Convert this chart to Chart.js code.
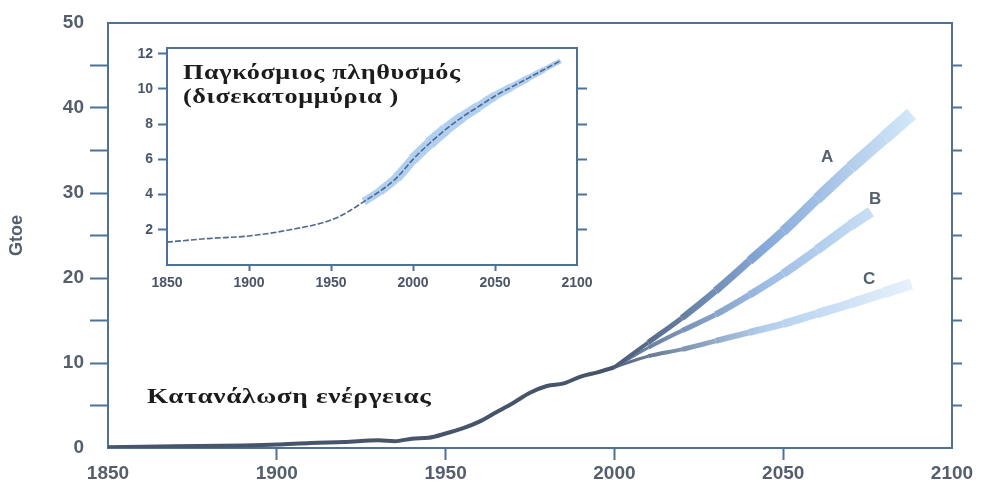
<!DOCTYPE html>
<html lang="el">
<head>
<meta charset="UTF-8">
<title>Κατανάλωση ενέργειας και παγκόσμιος πληθυσμός</title>
<script src="https://cdn.jsdelivr.net/npm/chart.js"></script>
<style>
    body { margin: 0; background: #fff; }
    .wrap { position: relative; width: 981px; height: 493px; }
    #mainChart { position: absolute; left: 0; top: 0; }
    #popChart { position: absolute; left: 120px; top: 35px; }
    .note { position: absolute; font-family: 'Liberation Serif', serif; font-weight: bold; color: #1c1c1c;
            white-space: nowrap; font-size: 21px; letter-spacing: 0.5px; transform: scaleX(1.25); transform-origin: left top; }
    .tag { position: absolute; font-family: 'Liberation Sans', Arial, sans-serif; font-weight: bold; font-size: 17px; color: #56616f; }
</style>
</head>
<body>
<div class="wrap">
    <canvas id="mainChart" width="981" height="493"></canvas>
    <canvas id="popChart" width="480" height="265"></canvas>
    <div class="note" style="left:183px; top:60px; line-height:24px;">Παγκόσμιος πληθυσμός<br>(δισεκατομμύρια )</div>
    <div class="note" style="left:147px; top:384px; transform: scaleX(1.3);">Κατανάλωση ενέργειας</div>
    <div class="tag" style="left:821px; top:147px;">A</div>
    <div class="tag" style="left:869px; top:189px;">B</div>
    <div class="tag" style="left:863px; top:269px;">C</div>
</div>
<script>
// ιστορική κατανάλωση ενέργειας (Gtoe)
const histYears = [1850, 1870, 1890, 1900, 1910, 1920, 1930, 1935, 1940, 1945, 1950, 1955, 1960, 1965, 1970, 1975, 1980, 1985, 1990, 1995, 2000];
const histValues = [0.1, 0.2, 0.3, 0.4, 0.6, 0.7, 0.9, 0.8, 1.1, 1.2, 1.7, 2.3, 3.1, 4.2, 5.3, 6.5, 7.3, 7.6, 8.4, 8.9, 9.5];

// σενάρια A, B, C
const yearsA = [2000, 2010, 2020, 2030, 2040, 2050, 2060, 2070, 2080, 2088];
const valuesA = [9.5, 12.4, 15.3, 18.5, 22.0, 25.5, 29.3, 33.0, 36.5, 39.3];
const yearsB = [2000, 2010, 2020, 2030, 2040, 2050, 2060, 2070, 2076];
const valuesB = [9.5, 11.8, 13.8, 15.7, 18.0, 20.5, 23.3, 26.2, 27.8];
const yearsC = [2000, 2010, 2020, 2030, 2040, 2050, 2060, 2070, 2080, 2088];
const valuesC = [9.5, 10.8, 11.6, 12.6, 13.6, 14.6, 15.8, 17.0, 18.3, 19.3];

// παγκόσμιος πληθυσμός (δισεκατομμύρια)
const popYears = [1850, 1875, 1900, 1925, 1950, 1960, 1970, 1980, 1990, 2000, 2010, 2020, 2030, 2040, 2050, 2060, 2070, 2080, 2090];
const popValues = [1.3, 1.5, 1.65, 2.0, 2.55, 3.0, 3.6, 4.2, 4.95, 6.0, 6.9, 7.7, 8.4, 9.0, 9.6, 10.1, 10.6, 11.1, 11.6];

const xTicks = [1850, 1900, 1950, 2000, 2050, 2100];
const gtoeTicks = [0, 5, 10, 15, 20, 25, 30, 35, 40, 45, 50];
const popTicks = [2, 4, 6, 8, 10, 12];

const frameColor = '#4d7197';
const labelColor = '#545e6c';
const clear = 'rgba(0,0,0,0)';

function points(xs, ys) {
    return xs.map((x, i) => ({ x: x, y: ys[i] }));
}

// χρώμα ζώνης σεναρίου: από σκούρο προς ανοιχτό μπλε
function bandColor(stops) {
    return function (ctx) {
        const chart = ctx.chart;
        if (!chart.chartArea) return stops[0];
        const xs = chart.scales.x;
        const g = chart.ctx.createLinearGradient(xs.getPixelForValue(2000), 0, xs.getPixelForValue(2090), 0);
        stops.forEach((c, i) => g.addColorStop(i / (stops.length - 1), c));
        return g;
    };
}

// πάχος ζώνης που ανοίγει προς τα δεξιά
function widen(start, step, max) {
    return { borderWidth: c => Math.min(start + c.p0DataIndex * step, max) };
}

function setTicks(list) {
    return function (scale) { scale.ticks = list.map(v => ({ value: v })); };
}

function hideEnds(a, b) {
    return c => (c.tick && (c.tick.value === a || c.tick.value === b)) ? clear : frameColor;
}

// Γράφημα κατανάλωσης ενέργειας
new Chart(document.getElementById('mainChart'), {
    type: 'line',
    data: {
        datasets: [
            { order: 4, data: points(yearsC, valuesC), borderColor: bandColor(['#55647c', '#b3cfee', '#e8f3fc']), segment: widen(3, 1.0, 11) },
            { order: 3, data: points(yearsB, valuesB), borderColor: bandColor(['#5c7091', '#9dbde6', '#dcedfa']), segment: widen(3, 1.1, 11) },
            { order: 2, data: points(yearsA, valuesA), borderColor: bandColor(['#4a5a74', '#86aadb', '#d6eaf9']), segment: widen(4, 1.2, 15) },
            { order: 1, data: points(histYears, histValues), borderWidth: 4, borderColor: '#46556a' }
        ]
    },
    options: {
        responsive: false,
        animation: false,
        layout: { padding: 0 },
        elements: {
            point: { radius: 0 },
            line: { cubicInterpolationMode: 'monotone', borderCapStyle: 'butt', borderJoinStyle: 'round' }
        },
        plugins: { legend: { display: false }, tooltip: { enabled: false } },
        scales: {
            x: {
                type: 'linear', min: 1850, max: 2100,
                afterBuildTicks: setTicks(xTicks),
                afterFit: s => { s.height = 45; },
                border: { color: frameColor, width: 2 },
                grid: { drawOnChartArea: false, tickLength: 12, tickWidth: 2, tickColor: hideEnds(1850, 2100) },
                ticks: {
                    color: labelColor, padding: 2,
                    font: { family: 'Liberation Sans', size: 19, weight: 'bold' },
                    callback: v => String(v)
                }
            },
            x2: {
                type: 'linear', position: 'top', min: 1850, max: 2100,
                afterFit: s => { s.height = 23; },
                border: { color: frameColor, width: 2 },
                grid: { drawOnChartArea: false, drawTicks: false },
                ticks: { display: false }
            },
            y: {
                min: 0, max: 50,
                afterBuildTicks: setTicks(gtoeTicks),
                afterFit: s => { s.width = 108; },
                border: { color: frameColor, width: 2 },
                grid: { drawOnChartArea: false, tickLength: 18, tickWidth: 2, tickColor: hideEnds(0, 50) },
                ticks: {
                    color: labelColor, padding: 6,
                    font: { family: 'Liberation Sans', size: 19, weight: 'bold' },
                    callback: v => (v % 10 === 0 ? String(v) : '')
                },
                title: {
                    display: true, text: 'Gtoe', color: labelColor, padding: { top: 6, bottom: 0 },
                    font: { family: 'Liberation Sans', size: 18, weight: 'bold' }
                }
            },
            y2: {
                position: 'right', min: 0, max: 50,
                afterBuildTicks: setTicks(gtoeTicks),
                afterFit: s => { s.width = 29; },
                border: { color: frameColor, width: 2 },
                grid: { drawOnChartArea: false, tickLength: 10, tickWidth: 2, tickColor: hideEnds(0, 50) },
                ticks: { display: false }
            }
        }
    }
});

// Ένθετο γράφημα πληθυσμού
new Chart(document.getElementById('popChart'), {
    type: 'line',
    data: {
        datasets: [
            {
                order: 1,
                data: points(popYears, popValues),
                borderColor: '#4f6a8c',
                borderWidth: 1.6,
                borderDash: [6, 2]
            },
            {
                order: 2,
                data: points(popYears, popValues).filter(p => p.x >= 1970),
                borderColor: '#b0cff1',
                segment: { borderWidth: c => 12 - Math.abs(c.p0DataIndex - 4) * 1.0 }
            }
        ]
    },
    options: {
        responsive: false,
        animation: false,
        layout: { padding: 0 },
        elements: {
            point: { radius: 0 },
            line: { cubicInterpolationMode: 'monotone', borderCapStyle: 'butt' }
        },
        plugins: { legend: { display: false }, tooltip: { enabled: false } },
        scales: {
            x: {
                type: 'linear', min: 1850, max: 2100,
                afterBuildTicks: setTicks(xTicks),
                afterFit: s => { s.height = 35; },
                border: { color: frameColor, width: 2 },
                grid: { drawOnChartArea: false, tickLength: 6, tickWidth: 2, tickColor: hideEnds(1850, 2100) },
                ticks: {
                    color: '#4a5568', padding: 4,
                    font: { family: 'Liberation Sans', size: 14, weight: 'bold' },
                    callback: v => String(v)
                }
            },
            x2: {
                type: 'linear', position: 'top', min: 1850, max: 2100,
                afterFit: s => { s.height = 8; },
                border: { color: frameColor, width: 2 },
                grid: { drawOnChartArea: false, drawTicks: false },
                ticks: { display: false }
            },
            y: {
                min: 0, max: 12.3,
                afterBuildTicks: setTicks(popTicks),
                afterFit: s => { s.width = 47; },
                border: { color: frameColor, width: 2 },
                grid: { drawOnChartArea: false, tickLength: 9, tickWidth: 2, tickColor: frameColor },
                ticks: {
                    color: '#4a5568', padding: 5,
                    font: { family: 'Liberation Sans', size: 14, weight: 'bold' },
                    callback: v => String(v)
                }
            },
            y2: {
                position: 'right', min: 0, max: 12.3,
                afterBuildTicks: setTicks(popTicks.slice(0, 5)),
                afterFit: s => { s.width = 23; },
                border: { color: frameColor, width: 2 },
                grid: { drawOnChartArea: false, tickLength: 10, tickWidth: 2, tickColor: frameColor },
                ticks: { display: false }
            }
        }
    }
});
</script>
</body>
</html>
